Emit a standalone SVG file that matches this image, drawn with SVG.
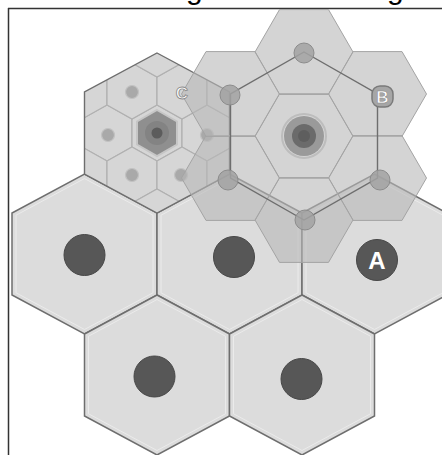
<svg xmlns="http://www.w3.org/2000/svg" xmlns:xlink="http://www.w3.org/1999/xlink" width="442" height="455" viewBox="0 0 442 455">
<style>
.big{fill:#dcdcdc;stroke:#6e6e6e;stroke-width:1.5}
.rim{fill:none;stroke:#ebebeb;stroke-width:1}
.dot{fill:#575757;stroke:#474747;stroke-width:1}
.sm{fill:#d6d6d6;stroke:#b0b0b0;stroke-width:1.2}
.sdot{fill:#a9a9a9;stroke:#c2c2c2;stroke-width:1.2}
.fl{fill:#b8b8b8;fill-opacity:0.6;stroke:#a4a4a4;stroke-width:1}
.vdot{fill:#a2a2a2;fill-opacity:0.85;stroke:#8c8c8c;stroke-width:1}
.outl{fill:none;stroke:#6e6e6e;stroke-width:1.4}
.lbl{font-family:"Liberation Sans",Arial,sans-serif;font-weight:bold;text-anchor:middle}
</style>
<defs>
<polygon id="hx" points="0,-80 72.5,-41 72.5,41 0,80 -72.5,41 -72.5,-41"/>
<polygon id="hxr" points="0,-75.5 68.5,-38.8 68.5,38.8 0,75.5 -68.5,38.8 -68.5,-38.8"/>
<polygon id="sh" points="0,-28 25,-14 25,14 0,28 -25,14 -25,-14"/>
<polygon id="fh" points="49,0 24.5,42.4 -24.5,42.4 -49,0 -24.5,-42.4 24.5,-42.4"/>
<clipPath id="clipbig"><use xlink:href="#hx"/></clipPath>
</defs>
<rect width="442" height="455" fill="#ffffff"/>
<g id="title" font-family="'Liberation Sans',Arial,sans-serif" font-size="30" fill="#000">
<text x="186" y="-1">g</text>
<text x="387" y="-1">g</text>
</g>
<g id="frame" fill="none" stroke="#333" stroke-width="1.5">
<line x1="8" y1="8.5" x2="442" y2="8.5"/>
<line x1="8.5" y1="8" x2="8.5" y2="455"/>
</g>
<g id="cell-r2-left" transform="translate(84.5,254)">
<use xlink:href="#hx" class="big"/><use xlink:href="#hxr" class="rim"/>
<circle class="dot" cx="0" cy="1" r="20.5"/>
</g>
<g id="cell-r2-mid" transform="translate(229.5,254)">
<use xlink:href="#hx" class="big"/><use xlink:href="#hxr" class="rim"/>
<circle class="dot" cx="4.5" cy="3" r="20.5"/>
</g>
<g id="cell-A" transform="translate(374.5,254)">
<use xlink:href="#hx" class="big"/><use xlink:href="#hxr" class="rim"/>
<circle class="dot" cx="2.5" cy="6" r="20.5" fill="#515151"/>
<text class="lbl" x="2.5" y="14.5" font-size="24" fill="#ffffff">A</text>
</g>
<g id="cell-r3-left" transform="translate(157,375)">
<use xlink:href="#hx" class="big"/><use xlink:href="#hxr" class="rim"/>
<circle class="dot" cx="-2.5" cy="1.5" r="20.5"/>
</g>
<g id="cell-r3-right" transform="translate(302,375)">
<use xlink:href="#hx" class="big"/><use xlink:href="#hxr" class="rim"/>
<circle class="dot" cx="-0.5" cy="4" r="20.5"/>
</g>
<g id="cell-C-cluster" transform="translate(157,133)">
<use xlink:href="#hx" fill="#dadada"/>
<g clip-path="url(#clipbig)">
<use xlink:href="#sh" class="sm" x="-100" y="0"/>
<use xlink:href="#sh" class="sm" x="-50" y="0"/>
<use xlink:href="#sh" class="sm" x="0" y="0"/>
<use xlink:href="#sh" class="sm" x="50" y="0"/>
<use xlink:href="#sh" class="sm" x="100" y="0"/>
<use xlink:href="#sh" class="sm" x="-75" y="-42"/>
<use xlink:href="#sh" class="sm" x="-25" y="-42"/>
<use xlink:href="#sh" class="sm" x="25" y="-42"/>
<use xlink:href="#sh" class="sm" x="75" y="-42"/>
<use xlink:href="#sh" class="sm" x="-75" y="42"/>
<use xlink:href="#sh" class="sm" x="-25" y="42"/>
<use xlink:href="#sh" class="sm" x="25" y="42"/>
<use xlink:href="#sh" class="sm" x="75" y="42"/>
<use xlink:href="#sh" class="sm" x="-50" y="-84"/>
<use xlink:href="#sh" class="sm" x="0" y="-84"/>
<use xlink:href="#sh" class="sm" x="50" y="-84"/>
<use xlink:href="#sh" class="sm" x="-50" y="84"/>
<use xlink:href="#sh" class="sm" x="0" y="84"/>
<use xlink:href="#sh" class="sm" x="50" y="84"/>
</g>
<use xlink:href="#hx" class="outl"/>
<polygon points="0,-23 20,-11.5 20,11.5 0,23 -20,11.5 -20,-11.5" fill="#8f8f8f" stroke="#c6c6c6" stroke-width="2"/>
<circle cx="0" cy="0" r="12" fill="#838383"/>
<circle cx="0" cy="0" r="5.5" fill="#5c5c5c"/>
<circle class="sdot" cx="-25" cy="-41" r="6.5"/>
<circle class="sdot" cx="-49" cy="2" r="6.5"/>
<circle class="sdot" cx="50" cy="2" r="6.5"/>
<circle class="sdot" cx="-25" cy="42" r="6.5"/>
<circle class="sdot" cx="24" cy="42" r="6.5"/>
</g>
<g id="cell-B-cluster" transform="translate(304,136)">
<use xlink:href="#fh" class="fl" x="0" y="0"/>
<use xlink:href="#fh" class="fl" x="0" y="-84"/>
<use xlink:href="#fh" class="fl" x="73.5" y="-42"/>
<use xlink:href="#fh" class="fl" x="73.5" y="42"/>
<use xlink:href="#fh" class="fl" x="0" y="84"/>
<use xlink:href="#fh" class="fl" x="-73.5" y="42"/>
<use xlink:href="#fh" class="fl" x="-73.5" y="-42"/>
<polygon class="outl" points="0,-84 73.5,-42 73.5,42 0,84 -73.5,42 -73.5,-42"/>
<circle cx="0" cy="0" r="22" fill="none" stroke="#bdbdbd" stroke-width="2"/>
<circle cx="0" cy="0" r="20" fill="#9a9a9a"/>
<circle cx="0" cy="0" r="12" fill="#6b6b6b"/>
<circle cx="0" cy="0" r="6" fill="#5e5e5e"/>
<circle class="vdot" cx="0" cy="-83" r="10"/>
<circle class="vdot" cx="-74" cy="-41" r="10"/>
<circle class="vdot" cx="-76" cy="44" r="10"/>
<circle class="vdot" cx="76" cy="44" r="10"/>
<circle class="vdot" cx="1" cy="84" r="10"/>
<rect x="68" y="-50" width="21" height="21" rx="8" fill="#a6a6a6" stroke="#7a7a7a" stroke-width="1.5"/>
<text class="lbl" x="78.5" y="-33.5" font-size="17" fill="#ffffff" stroke="#8a8a8a" stroke-width="0.6">B</text>
</g>
<g id="label-C">
<text class="lbl" x="182" y="99" font-size="17" fill="#ffffff" stroke="#8a8a8a" stroke-width="0.9">C</text>
</g>
</svg>
